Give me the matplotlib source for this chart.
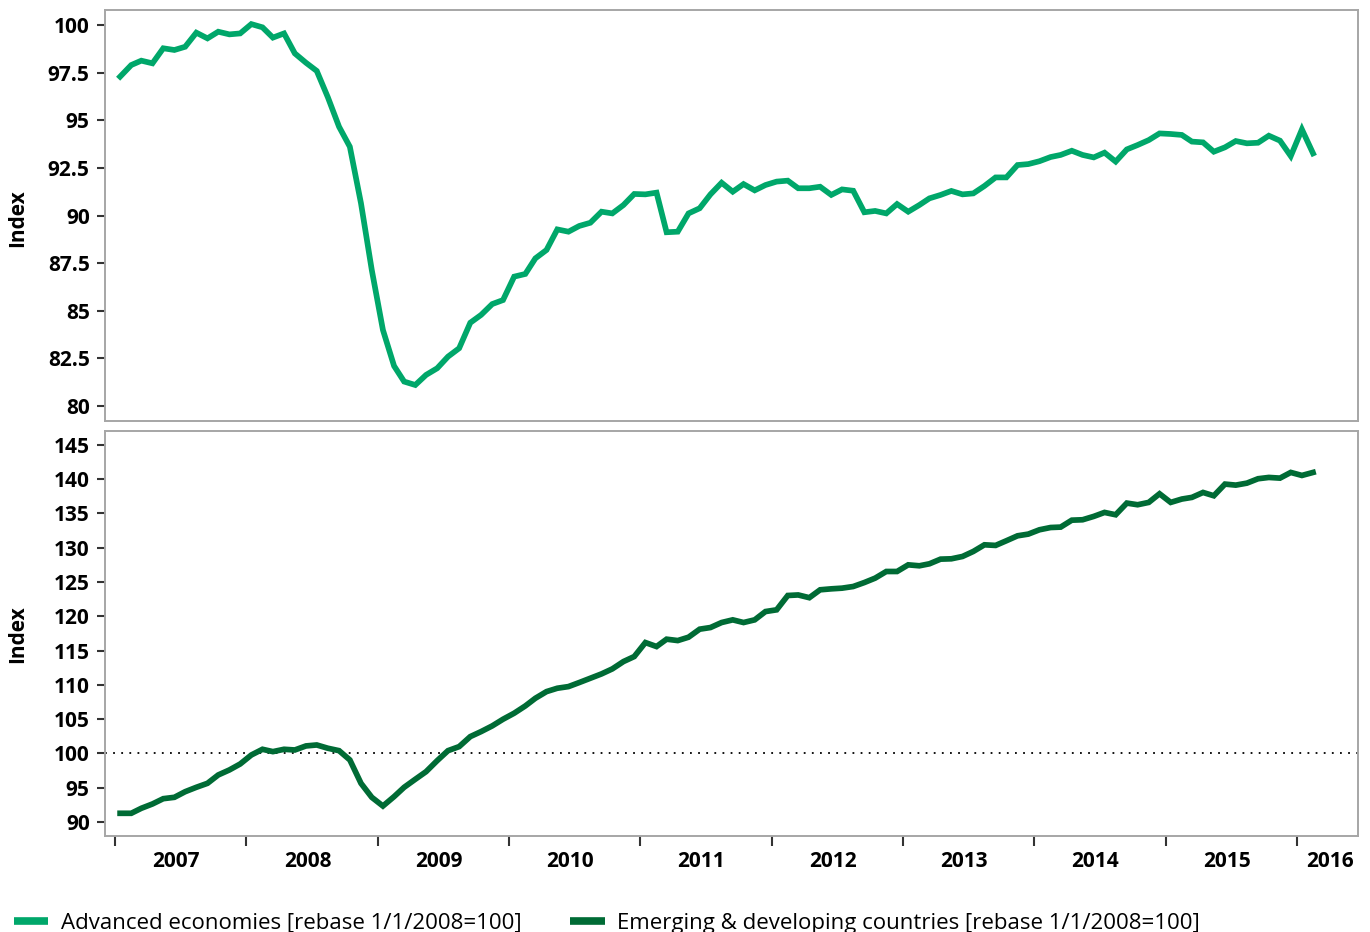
import datetime as dt
import matplotlib
matplotlib.use("Agg")
from matplotlib import pyplot as plt
from matplotlib.lines import Line2D
import matplotlib.dates as mdates
import pandas as pd

plt.rcParams['font.family'] = ['Open Sans', 'DejaVu Sans']

# monthly values, Jan 2007 .. Feb 2016 (plotted mid-month)
months = pd.date_range('2007-01-01', '2016-02-01', freq='MS') + pd.Timedelta(days=14)

advanced = [97.29, 97.90, 98.13, 97.99, 98.78, 98.69, 98.86, 99.60, 99.30, 99.65,
            99.51, 99.56, 100.05, 99.88, 99.34, 99.56, 98.51, 98.02, 97.59, 96.20,
            94.66, 93.61, 90.64, 87.14, 83.99, 82.10, 81.28, 81.10, 81.63, 81.98,
            82.59, 83.03, 84.37, 84.78, 85.35, 85.56, 86.79, 86.93, 87.75, 88.19,
            89.27, 89.15, 89.45, 89.62, 90.20, 90.11, 90.55, 91.13, 91.11, 91.20,
            89.12, 89.15, 90.11, 90.38, 91.11, 91.72, 91.25, 91.65, 91.32, 91.60,
            91.78, 91.83, 91.43, 91.43, 91.51, 91.08, 91.37, 91.30, 90.17, 90.24,
            90.11, 90.60, 90.20, 90.55, 90.90, 91.08, 91.29, 91.11, 91.16, 91.55,
            92.00, 92.00, 92.65, 92.70, 92.85, 93.07, 93.18, 93.40, 93.18, 93.05,
            93.30, 92.83, 93.47, 93.70, 93.96, 94.31, 94.28, 94.23, 93.88, 93.84,
            93.35, 93.58, 93.91, 93.79, 93.82, 94.19, 93.93, 93.12, 94.52, 93.26]

emerging = [91.27, 91.27, 92.00, 92.63, 93.40, 93.60, 94.42, 95.06, 95.64, 96.86,
            97.59, 98.46, 99.77, 100.60, 100.26, 100.60, 100.50, 101.09, 101.23, 100.75,
            100.40, 99.05, 95.64, 93.60, 92.33, 93.70, 95.06, 96.23, 97.34, 98.95,
            100.40, 100.99, 102.45, 103.18, 104.01, 104.98, 105.86, 106.92, 108.04, 109.01,
            109.50, 109.74, 110.33, 110.96, 111.59, 112.32, 113.39, 114.12, 116.16, 115.58,
            116.65, 116.45, 116.94, 118.11, 118.35, 119.08, 119.47, 119.08, 119.47, 120.68,
            120.93, 123.02, 123.10, 122.70, 123.85, 123.99, 124.09, 124.33, 124.91, 125.55,
            126.52, 126.52, 127.49, 127.35, 127.64, 128.32, 128.37, 128.71, 129.44, 130.41,
            130.32, 131.00, 131.72, 131.97, 132.60, 132.93, 132.99, 134.00, 134.06, 134.55,
            135.13, 134.79, 136.49, 136.25, 136.59, 137.85, 136.59, 137.08, 137.32, 138.04,
            137.56, 139.26, 139.11, 139.40, 140.04, 140.23, 140.13, 140.96, 140.52, 140.96]

years = list(range(2007, 2017))
adv_ticks = [80, 82.5, 85, 87.5, 90, 92.5, 95, 97.5, 100]
emg_ticks = [90, 95, 100, 105, 110, 115, 120, 125, 130, 135, 140, 145]
BASE = 100

labels = ['Advanced economies [rebase 1/1/2008=100]',
          'Emerging & developing countries [rebase 1/1/2008=100]']
col_adv = '#00a76a'
col_emg = '#006b35'
frame_col = '#a6a6a6'
FS = 15
LEG_FS = 16

W, H = 1370, 932
fig = plt.figure(figsize=(W / 100, H / 100), dpi=100)
left, right = 105 / W, 1358 / W
ax1 = fig.add_axes([left, 1 - 421 / H, right - left, (421 - 10) / H])
ax2 = fig.add_axes([left, 1 - 836 / H, right - left, (836 - 431) / H])

ax1.plot(months, advanced, color=col_adv, lw=4.1, solid_joinstyle='miter')
ax2.plot(months, emerging, color=col_emg, lw=4.1, solid_joinstyle='miter')
ax2.axhline(BASE, color='black', lw=1.3, ls=(0, (1, 3.5)), zorder=1)

xmin = mdates.date2num(dt.datetime(2006, 12, 4))
xmax = mdates.date2num(dt.datetime(2016, 6, 19))

for ax, ticks, lims in [(ax1, adv_ticks, (79.21, 100.79)), (ax2, emg_ticks, (87.96, 147.0))]:
    ax.set_xlim(xmin, xmax)
    ax.set_ylim(*lims)
    ax.set_yticks(ticks)
    ax.set_yticklabels(['{:g}'.format(t) for t in ticks], fontweight='bold', fontsize=FS)
    ax.tick_params(axis='y', direction='out', length=6, width=1.5, color='#333333', pad=5)
    for s in ax.spines.values():
        s.set_color(frame_col)
        s.set_linewidth(1.4)

ax1.tick_params(axis='x', bottom=False, labelbottom=False)

# year boundaries as ticks, labels between them
ax2.set_xticks([mdates.date2num(dt.datetime(y, 1, 1)) for y in years])
ax2.set_xticklabels([])
ax2.tick_params(axis='x', which='major', direction='out', length=7, width=1.5, color='#333333')
label_pos = [mdates.date2num(dt.datetime(y, 6, 20)) for y in years[:-1]]
label_pos.append(mdates.date2num(dt.datetime(2016, 4, 1)))
ax2.set_xticks(label_pos, minor=True)
ax2.set_xticklabels([str(y) for y in years], minor=True, fontweight='bold', fontsize=FS)
ax2.tick_params(axis='x', which='minor', length=0, pad=11)

fig.text(18 / W, 1 - 218 / H, 'Index', rotation=90, ha='center', va='center',
         fontweight='bold', fontsize=FS)
fig.text(18 / W, 1 - 634 / H, 'Index', rotation=90, ha='center', va='center',
         fontweight='bold', fontsize=FS)

handles = [Line2D([], [], color=col_adv, lw=5.5, solid_capstyle='butt'),
           Line2D([], [], color=col_emg, lw=5.5, solid_capstyle='butt')]
fig.legend(handles, labels, loc='center left', bbox_to_anchor=(14 / W, 9 / H), ncol=2,
           frameon=False, fontsize=LEG_FS, handlelength=1.55, handletextpad=0.55,
           columnspacing=2.2, borderpad=0, borderaxespad=0)

fig.savefig('out.png', dpi=100)
